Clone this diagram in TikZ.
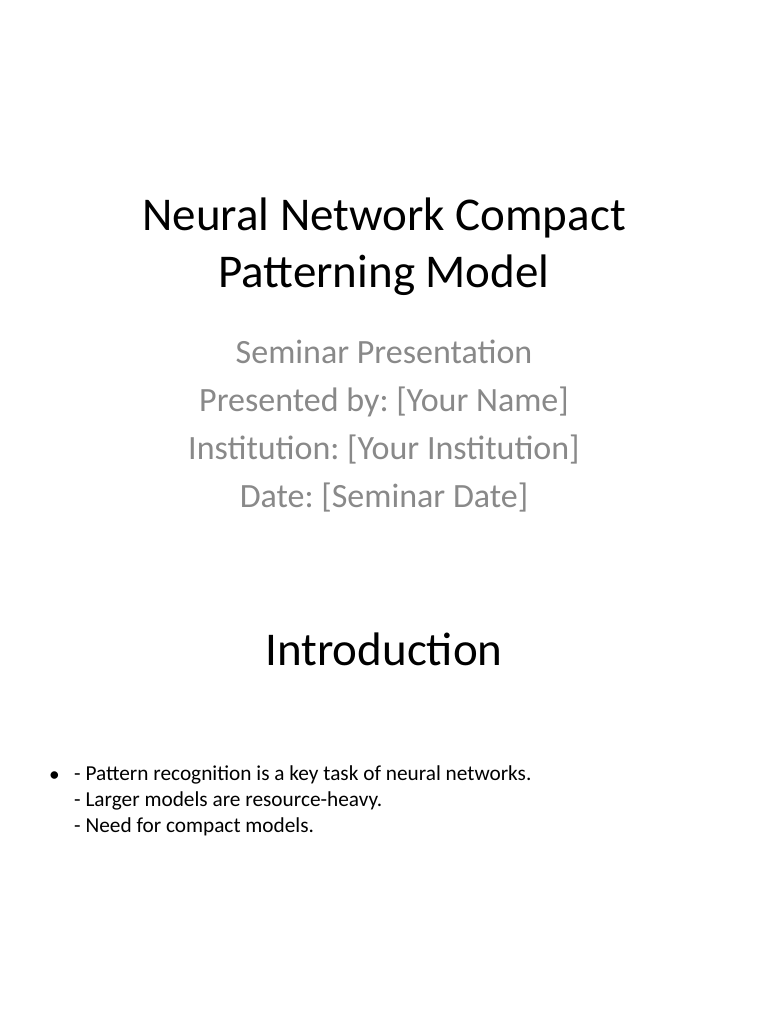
\documentclass[tikz,border=0pt]{standalone}
\usepackage{fontspec}
\setmainfont{Carlito}
\frenchspacing
\definecolor{subgray}{HTML}{898989}
\tikzset{
  title/.style={anchor=base, inner sep=0pt, align=center, font=\fontsize{47}{56}\selectfont, text=black},
  subtitle/.style={anchor=base, inner sep=0pt, align=center, font=\fontsize{34}{48}\selectfont, text=subgray},
  bodytext/.style={anchor=base west, inner sep=0pt, align=left, font=\fontsize{21.3}{25.7}\selectfont, text=black},
}
\begin{document}
\begin{tikzpicture}[x=1pt,y=1pt]
\useasboundingbox[fill=white] (0,0) rectangle (768,-1024);
\node[title] (t) at (384,-287) {Neural Network Compact\\Patterning Model};
\node[subtitle] (s) at (384,-507) {Seminar Presentation\\Presented by: [Your Name]\\Institution: [Your Institution]\\Date: [Seminar Date]};
\node[title] (intro) at (384,-665) {Introduction};
\node[bodytext] (bul) at (49,-781) {\textbullet};
\node[bodytext] (b) at (74,-832) {- Pattern recognition is a key task of neural networks.\\- Larger models are resource-heavy.\\- Need for compact models.};
\end{tikzpicture}
\end{document}
